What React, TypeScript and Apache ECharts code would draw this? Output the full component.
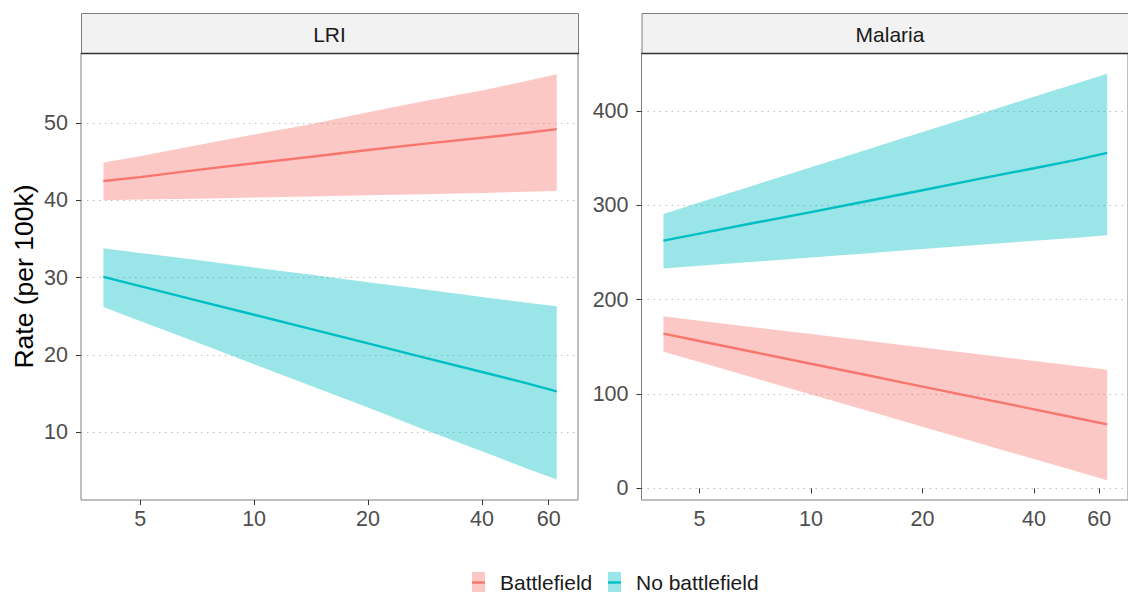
import React, { useEffect, useRef } from "react";
import * as echarts from "echarts";

// ---------- data ----------
const facets = ["LRI", "Malaria"];
const groups = ["Battlefield", "No battlefield"];
const groupColors = ["#F8766D", "#00BFC4"];
const bandColors = ["rgba(248,118,109,0.4)", "rgba(0,191,196,0.4)"];

const xValues = [4, 5, 7, 10, 14, 20, 28, 40, 52, 63];
const xTicks = [5, 10, 20, 40, 60];
const lriYTicks = [10, 20, 30, 40, 50];
const malariaYTicks = [0, 100, 200, 300, 400];

// LRI – Battlefield
const lriBattleFit = [42.5, 43.0, 43.9, 44.8, 45.6, 46.5, 47.3, 48.1, 48.7, 49.2];
const lriBattleLow = [40.0, 40.1, 40.2, 40.35, 40.5, 40.65, 40.8, 40.95, 41.1, 41.2];
const lriBattleHigh = [44.9, 45.7, 47.1, 48.5, 49.8, 51.4, 52.8, 54.2, 55.4, 56.3];
// LRI – No battlefield
const lriNoFit = [30.1, 28.9, 27.1, 25.2, 23.4, 21.5, 19.7, 17.8, 16.4, 15.3];
const lriNoLow = [26.2, 24.4, 21.7, 18.8, 16.1, 13.2, 10.4, 7.55, 5.4, 3.9];
const lriNoHigh = [33.8, 33.2, 32.3, 31.3, 30.4, 29.4, 28.5, 27.5, 26.8, 26.3];
// Malaria – Battlefield
const malBattleFit = [164, 156.2, 144.5, 132.1, 120.4, 107.9, 96.2, 83.8, 74.6, 67.9];
const malBattleLow = [144.9, 133.9, 117.2, 99.6, 83.0, 65.3, 48.7, 31.1, 18.1, 8.6];
const malBattleHigh = [182.3, 177.7, 170.8, 163.5, 156.6, 149.3, 142.4, 135.1, 129.8, 125.8];
// Malaria – No battlefield
const malNoFit = [262.6, 270.0, 281.2, 292.8, 304.0, 316.0, 327.5, 339.3, 348.1, 355.5];
const malNoLow = [233, 235.9, 240.1, 244.7, 249.0, 253.6, 257.9, 262.4, 265.7, 268.2];
const malNoHigh = [290.9, 302.9, 321.1, 340.2, 358.4, 377.7, 395.8, 415.0, 429.1, 439.5];

const panelData = [
  {
    fits: [lriBattleFit, lriNoFit],
    lows: [lriBattleLow, lriNoLow],
    highs: [lriBattleHigh, lriNoHigh],
    ticks: lriYTicks,
    yRange: [1.25, 59.05],
  },
  {
    fits: [malBattleFit, malNoFit],
    lows: [malBattleLow, malNoLow],
    highs: [malBattleHigh, malNoHigh],
    ticks: malariaYTicks,
    yRange: [-12.3, 461.4],
  },
];

const xRange = [3.49, 71.7];

// ---------- layout ----------
const FONT = '"Liberation Sans", Arial, sans-serif';
const GRID_TOP = 53;
const GRID_H = 447;
const GRID_W = 497;
const gridLefts = [81, 641.5];
const STRIP_TOP = 13;

const lg = (v: number) => Math.log10(v);

export default function App() {
  const ref = useRef<HTMLDivElement>(null);

  useEffect(() => {
    if (!ref.current) return;
    const chart = echarts.init(ref.current, undefined, { renderer: "svg" });

    const grids: any[] = [];
    const xAxes: any[] = [];
    const yAxes: any[] = [];
    const series: any[] = [];
    const graphics: any[] = [];

    panelData.forEach((p, pi) => {
      grids.push({
        left: gridLefts[pi],
        top: GRID_TOP,
        width: GRID_W,
        height: GRID_H,
        show: true,
        borderColor: "#7f7f7f",
        borderWidth: 1,
        backgroundColor: "transparent",
      });
      xAxes.push({
        type: "value",
        gridIndex: pi,
        min: lg(xRange[0]),
        max: lg(xRange[1]),
        axisLine: { show: false },
        axisTick: {
          show: true,
          length: 5,
          lineStyle: { color: "#333333", width: 1 },
          customValues: xTicks.map(lg),
        },
        axisLabel: {
          customValues: xTicks.map(lg),
          formatter: (v: number) => String(Math.round(Math.pow(10, v))),
          fontSize: 21.5,
          fontFamily: FONT,
          color: "#4d4d4d",
          margin: 8,
        },
        splitLine: { show: false },
      });
      yAxes.push({
        type: "value",
        gridIndex: pi,
        min: p.yRange[0],
        max: p.yRange[1],
        axisLine: { show: false },
        axisTick: {
          show: true,
          length: 5,
          lineStyle: { color: "#333333", width: 1 },
          customValues: p.ticks,
        },
        axisLabel: {
          customValues: p.ticks,
          fontSize: 21.5,
          fontFamily: FONT,
          color: "#4d4d4d",
          margin: 13,
        },
        splitLine: {
          show: true,
          lineStyle: { color: "#bdbdbd", width: 1, type: [1.5, 4.5] },
        },
      });

      // ribbons
      groups.forEach((g, gi) => {
        const lo = p.lows[gi];
        const hi = p.highs[gi];
        series.push({
          type: "custom",
          name: g,
          xAxisIndex: pi,
          yAxisIndex: pi,
          silent: true,
          z: 1,
          data: xValues.map((x, i) => [lg(x), lo[i], hi[i]]),
          encode: { x: 0, y: [1, 2] },
          renderItem: (params: any, api: any) => {
            if (params.dataIndex !== 0) return null;
            const upper = xValues.map((x, i) => api.coord([lg(x), hi[i]]));
            const lower = xValues
              .map((x, i) => api.coord([lg(x), lo[i]]))
              .reverse();
            return {
              type: "polygon",
              shape: { points: upper.concat(lower) },
              style: { fill: bandColors[gi] },
            };
          },
        });
      });
      // fitted lines
      groups.forEach((g, gi) => {
        const fit = p.fits[gi];
        series.push({
          type: "line",
          name: g,
          xAxisIndex: pi,
          yAxisIndex: pi,
          z: 3,
          symbol: "none",
          showSymbol: false,
          silent: true,
          lineStyle: { color: groupColors[gi], width: 2.4 },
          data: xValues.map((x, i) => [lg(x), fit[i]]),
        });
      });

      // strip
      graphics.push({
        type: "rect",
        shape: { x: gridLefts[pi] + 0.5, y: STRIP_TOP + 0.5, width: GRID_W, height: GRID_TOP - STRIP_TOP },
        style: { fill: "#F2F2F2", stroke: "#7f7f7f", lineWidth: 1 },
        z: 10,
      });
      graphics.push({
        type: "line",
        shape: { x1: gridLefts[pi], y1: GRID_TOP + 0.5, x2: gridLefts[pi] + GRID_W + 1, y2: GRID_TOP + 0.5 },
        style: { stroke: "#333333", lineWidth: 1.3 },
        z: 11,
      });
      graphics.push({
        type: "text",
        x: gridLefts[pi] + GRID_W / 2,
        y: (STRIP_TOP + GRID_TOP) / 2 + 1,
        z: 12,
        style: {
          text: facets[pi],
          fontSize: 21,
          fontFamily: FONT,
          fill: "#1a1a1a",
          align: "center",
          verticalAlign: "middle",
        },
      });
    });

    // y-axis title
    graphics.push({
      type: "text",
      x: 24,
      y: GRID_TOP + GRID_H / 2,
      rotation: Math.PI / 2,
      z: 12,
      style: {
        text: "Rate (per 100k)",
        fontSize: 26.5,
        fontFamily: FONT,
        fill: "#000000",
        align: "center",
        verticalAlign: "middle",
      },
    });

    // legend
    const legendKeys = [472, 608];
    const legendTexts = [500, 636];
    groups.forEach((g, gi) => {
      graphics.push({
        type: "rect",
        shape: { x: legendKeys[gi], y: 572, width: 13, height: 21 },
        style: { fill: bandColors[gi] },
        z: 12,
      });
      graphics.push({
        type: "line",
        shape: { x1: legendKeys[gi], y1: 582.5, x2: legendKeys[gi] + 13, y2: 582.5 },
        style: { stroke: groupColors[gi], lineWidth: 2.4 },
        z: 13,
      });
      graphics.push({
        type: "text",
        x: legendTexts[gi],
        y: 582,
        z: 13,
        style: {
          text: g,
          fontSize: 21,
          fontFamily: FONT,
          fill: "#1a1a1a",
          align: "left",
          verticalAlign: "middle",
        },
      });
    });

    chart.setOption({
      animation: false,
      backgroundColor: "#ffffff",
      grid: grids,
      xAxis: xAxes,
      yAxis: yAxes,
      series,
      graphic: { elements: graphics },
    });

    return () => chart.dispose();
  }, []);

  return (
    <div
      ref={ref}
      style={{ position: "absolute", left: 0, top: 0, width: 1128, height: 592, overflow: "hidden" }}
    />
  );
}
